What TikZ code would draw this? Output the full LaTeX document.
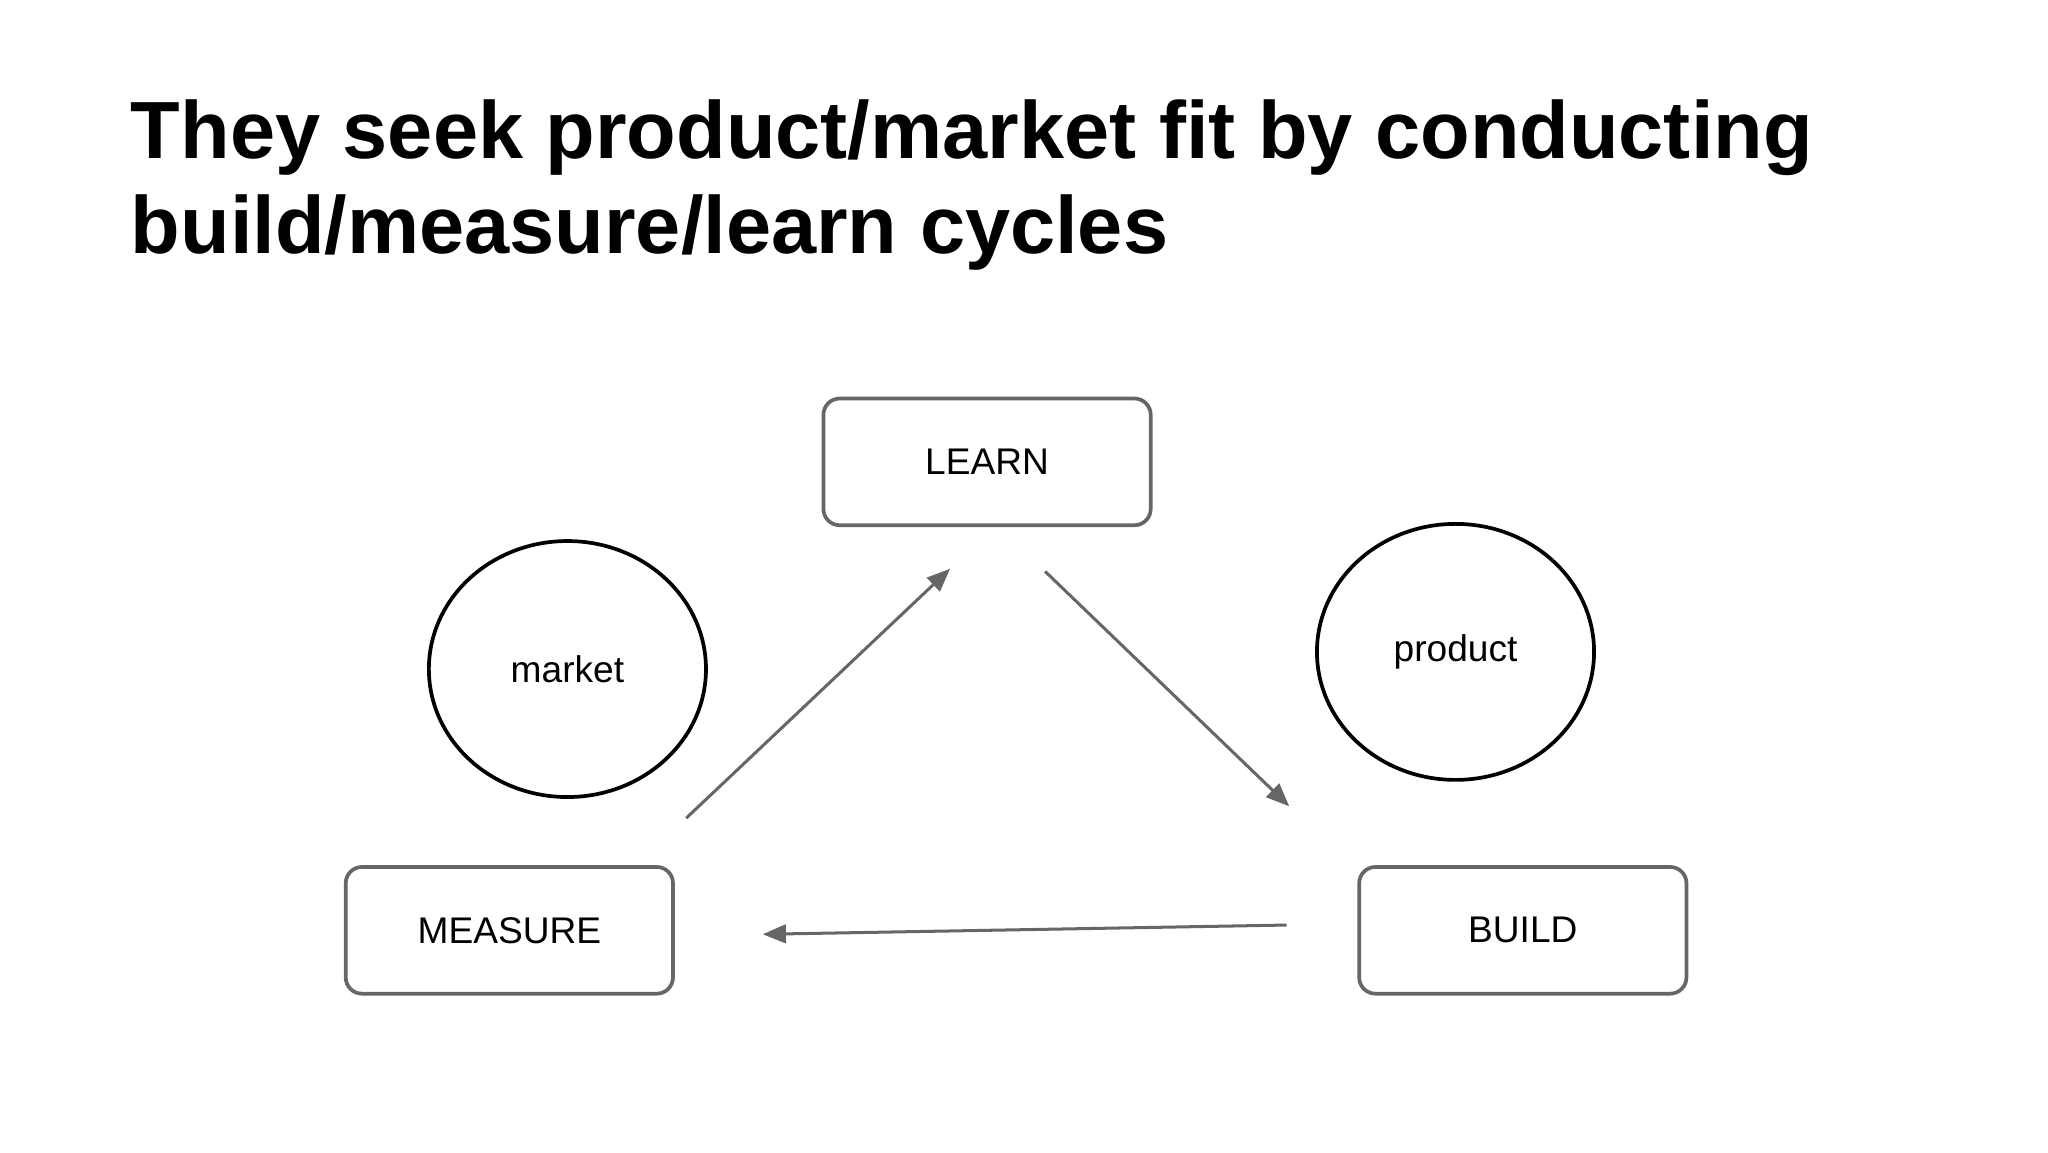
\documentclass[tikz,border=0pt]{standalone}
\usepackage{fontspec}
\setmainfont{Liberation Sans}
\usetikzlibrary{shapes.geometric,arrows.meta}
\begin{document}
\begin{tikzpicture}[x=0.02cm,y=-0.02cm,
  box/.style={draw=black!60,line width=1.6pt,rounded corners=7pt,minimum width=248*0.02cm,minimum height=96*0.02cm,font=\fontsize{16}{19}\selectfont},
  circ/.style={draw=black,ellipse,line width=1.6pt,minimum width=210*0.02cm,minimum height=194*0.02cm,font=\fontsize{16}{19}\selectfont},
  arr/.style={draw=black!60,line width=1.3pt,-{Triangle[length=10pt,width=8pt]}}]
\useasboundingbox (0,0) rectangle (1552,873);
\node[anchor=base west,font=\bfseries\fontsize{35}{41}\selectfont,align=left] (title) at (93,120) {They seek product/market fit by conducting};
\node[anchor=base west,font=\bfseries\fontsize{35}{41}\selectfont] (title2) at (93,192) {build/measure/learn cycles};
\node[box] (learn) at (748,350) {LEARN};
\node[box] (measure) at (386,705) {MEASURE};
\node[box] (build) at (1154,705) {BUILD};
\node[circ] (market) at (430,507) {market};
\node[circ] (product) at (1103,494) {product};
\coordinate (a1) at (520,620); \coordinate (a2) at (720,431);
\coordinate (b1) at (792,433); \coordinate (b2) at (977,611);
\coordinate (c1) at (975,701); \coordinate (c2) at (578,708);
\draw[arr] (a1) -- (a2);
\draw[arr] (b1) -- (b2);
\draw[arr] (c1) -- (c2);
\end{tikzpicture}
\end{document}
